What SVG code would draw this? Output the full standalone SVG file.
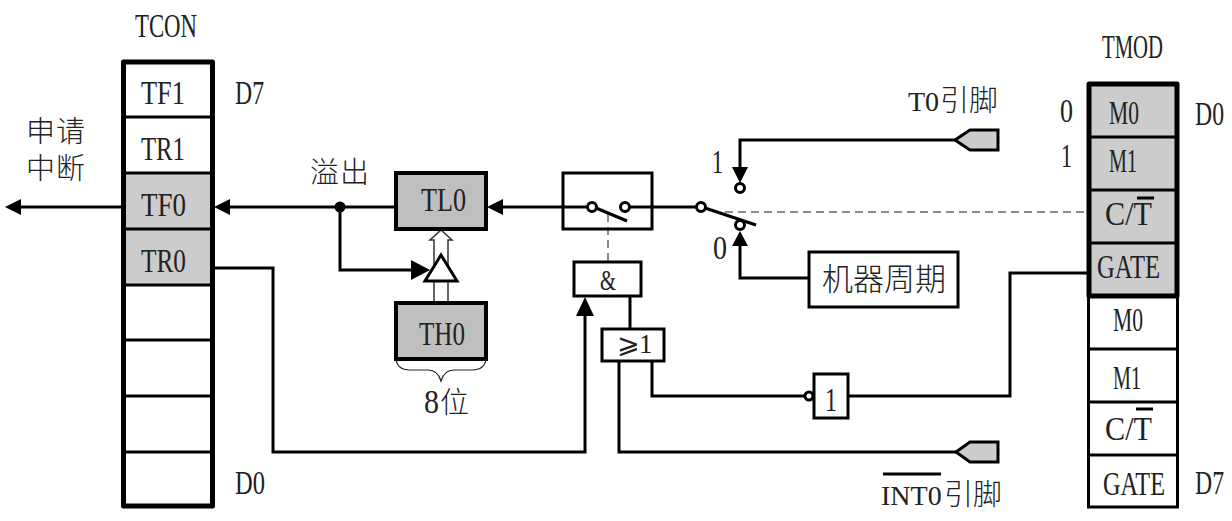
<svg xmlns="http://www.w3.org/2000/svg" width="1232" height="521" viewBox="0 0 1232 521">
<style>
text{font-family:"Liberation Serif","Noto Sans CJK SC",serif;font-size:33px;fill:#222}
.c{font-size:29px;font-weight:300}
.w{stroke:#000;stroke-width:3;fill:none}
.b{stroke:#000;stroke-width:3;fill:#fff}
.g{stroke:#000;stroke-width:4;fill:#bfbfbf}
.l{stroke:#000;stroke-width:3;fill:#ccc}
.thick{stroke:#000;stroke-width:5;fill:none;stroke-linejoin:round}
.r{stroke:#000;stroke-width:3}
.dash{stroke:#666;stroke-width:1.5;stroke-dasharray:8 5;fill:none}
.o{fill:#fff;stroke:#000;stroke-width:3}
.ah{fill:#000}
.over{stroke:#000;stroke-width:3}
</style>
<rect width="1232" height="521" fill="#fff"/>
<g id="connectors">
<path class="w" d="M122 207H20"/><polygon class="ah" points="5,207 21,199 21,215"/>
<path class="w" d="M396 207H229"/><polygon class="ah" points="214,207 230,199 230,215"/>
<circle cx="340" cy="207" r="5.500" fill="#000"/>
<path class="w" d="M340 207V270H412"/><polygon class="ah" points="430,270 411,260 411,280"/>
<path class="w" d="M588 207H503"/><polygon class="ah" points="487,207 503,199 503,215"/>
<path class="w" d="M630 207H697"/>
<path class="w" d="M955 140H740V168"/><polygon class="ah" points="740,183 732,167 748,167"/>
<path class="w" d="M809 278H740V245"/><polygon class="ah" points="740,231 732,246 748,246"/>
<path class="dash" d="M725 212H1088"/>
<path class="dash" d="M608 214V262"/>
<path class="w" d="M214 268H273V452H585V314"/><polygon class="ah" points="585,297 576,316 594,316"/>
<path class="w" d="M630 296V329"/>
<path class="w" d="M619 361V452H956"/>
<path class="w" d="M652 361V396H805"/>
<path class="w" d="M848 396H1010V273H1088"/>
<path d="M434 303V240H430L441 230L452 240H448V303" fill="#fff" stroke="#333" stroke-width="1.500"/>
</g>
<g id="tcon">
<rect x="124" y="62" width="88" height="444" fill="#fff"/>
<rect x="124" y="173" width="88" height="112" fill="#ccc"/>
<path class="r" d="M124 117H212M124 173H212M124 229H212M124 285H212M124 340H212M124 396H212M124 452H212"/>
<rect class="thick" x="123.500" y="62" width="89" height="444"/>
<text x="135" y="37" textLength="62" lengthAdjust="spacingAndGlyphs">TCON</text>
<text x="141" y="104" textLength="44" lengthAdjust="spacingAndGlyphs">TF1</text>
<text x="141" y="160" textLength="44" lengthAdjust="spacingAndGlyphs">TR1</text>
<text x="141" y="216" textLength="45" lengthAdjust="spacingAndGlyphs">TF0</text>
<text x="141" y="272" textLength="45" lengthAdjust="spacingAndGlyphs">TR0</text>
<text x="235" y="104" textLength="29" lengthAdjust="spacingAndGlyphs">D7</text>
<text x="235" y="494" textLength="30" lengthAdjust="spacingAndGlyphs">D0</text>
</g>
<g id="request"><text class="c" x="26" y="142" letter-spacing="1">申请</text><text class="c" x="26" y="179" letter-spacing="1">中断</text></g>
<g id="overflow"><text class="c" x="310" y="183" letter-spacing="1">溢出</text></g>
<g id="tl0"><rect class="g" x="396" y="173" width="90" height="56"/><text x="421" y="211" textLength="45" lengthAdjust="spacingAndGlyphs">TL0</text></g>
<g id="gate-triangle"><polygon points="441,255 425,281 457,281" fill="#fff" stroke="#000" stroke-width="3"/></g>
<g id="th0"><rect class="g" x="396" y="303" width="90" height="56"/><text x="419" y="345" textLength="46" lengthAdjust="spacingAndGlyphs">TH0</text>
<path d="M396 359C397 367 402 370 410 370H428C435 370 439 374 441 381C443 374 447 370 454 370H472C480 370 485 367 486 359" fill="none" stroke="#222" stroke-width="1.200"/>
<text x="424" y="413"><tspan textLength="15" lengthAdjust="spacingAndGlyphs">8</tspan><tspan x="440" class="c">位</tspan></text></g>
<g id="switch1"><rect class="w" x="563" y="173" width="89" height="56"/>
<path class="w" d="M596 208L627 221"/><circle class="o" cx="592" cy="207" r="4.500"/><circle class="o" cx="625" cy="207" r="4.500"/></g>
<g id="switch2"><path class="w" d="M705 208L756 225"/><circle class="o" cx="701" cy="207" r="4.500"/><circle class="o" cx="740" cy="188" r="4.500"/><circle class="o" cx="740" cy="225" r="4.500"/>
<text x="712" y="173" textLength="11" lengthAdjust="spacingAndGlyphs">1</text><text x="713" y="259" textLength="14" lengthAdjust="spacingAndGlyphs">0</text></g>
<g id="and"><rect class="b" x="574" y="262" width="67" height="34"/><text x="600" y="290" textLength="16" lengthAdjust="spacingAndGlyphs" style="font-size:29px">&amp;</text></g>
<g id="or"><rect class="b" x="602" y="329" width="62" height="32"/><text x="617" y="353" style="font-size:27px;font-family:'Liberation Serif','DejaVu Sans',serif"><tspan>⩾</tspan><tspan x="639">1</tspan></text></g>
<g id="not"><circle class="o" cx="809" cy="396" r="4"/><rect class="b" x="814" y="374" width="34" height="44"/><text x="825" y="411" textLength="12" lengthAdjust="spacingAndGlyphs">1</text></g>
<g id="machine"><rect class="b" x="809" y="252" width="149" height="55"/><text x="822" y="290" style="font-size:31px;font-weight:300">机器周期</text></g>
<g id="t0pin"><polygon class="l" points="955,140 970,130 998,130 998,150 970,150"/>
<text x="908" y="111" style="font-size:28px">T0<tspan x="940" class="c">引脚</tspan></text></g>
<g id="int0pin"><polygon class="l" points="956,452 970,442 998,442 998,462 970,462"/>
<line class="over" x1="883" y1="474" x2="941" y2="474"/>
<text x="881" y="505" style="font-size:28px">INT0<tspan x="944" class="c">引脚</tspan></text></g>
<g id="tmod">
<rect x="1089" y="84" width="88" height="212" fill="#ccc"/>
<rect x="1089" y="296" width="88" height="212" fill="#fff"/>
<path class="r" d="M1089 137H1177M1089 190H1177M1089 243H1177M1089 349H1177M1089 402H1177M1089 455H1177"/>
<path class="w" d="M1088.500 296V507H1177.500V296"/>
<rect class="thick" x="1089" y="84" width="88" height="212"/>
<text x="1102" y="58" textLength="61" lengthAdjust="spacingAndGlyphs">TMOD</text>
<text x="1060" y="122" textLength="13" lengthAdjust="spacingAndGlyphs">0</text>
<text x="1061" y="167" textLength="11" lengthAdjust="spacingAndGlyphs">1</text>
<text transform="translate(1195 125) scale(.72 1)">D0</text>
<text x="1109" y="124" textLength="30" lengthAdjust="spacingAndGlyphs">M0</text>
<text x="1109" y="172" textLength="28" lengthAdjust="spacingAndGlyphs">M1</text>
<text x="1105" y="225" textLength="47" lengthAdjust="spacingAndGlyphs">C/T</text><line class="over" x1="1137" y1="198" x2="1154" y2="198"/>
<text x="1097" y="278" textLength="63" lengthAdjust="spacingAndGlyphs">GATE</text>
<text x="1113" y="331" textLength="30" lengthAdjust="spacingAndGlyphs">M0</text>
<text x="1113" y="389" textLength="28" lengthAdjust="spacingAndGlyphs">M1</text>
<text x="1105" y="440" textLength="47" lengthAdjust="spacingAndGlyphs">C/T</text><line class="over" x1="1136" y1="409" x2="1153" y2="409"/>
<text x="1103" y="495" textLength="62" lengthAdjust="spacingAndGlyphs">GATE</text>
<text transform="translate(1195 494) scale(.72 1)">D7</text>
</g>
</svg>
